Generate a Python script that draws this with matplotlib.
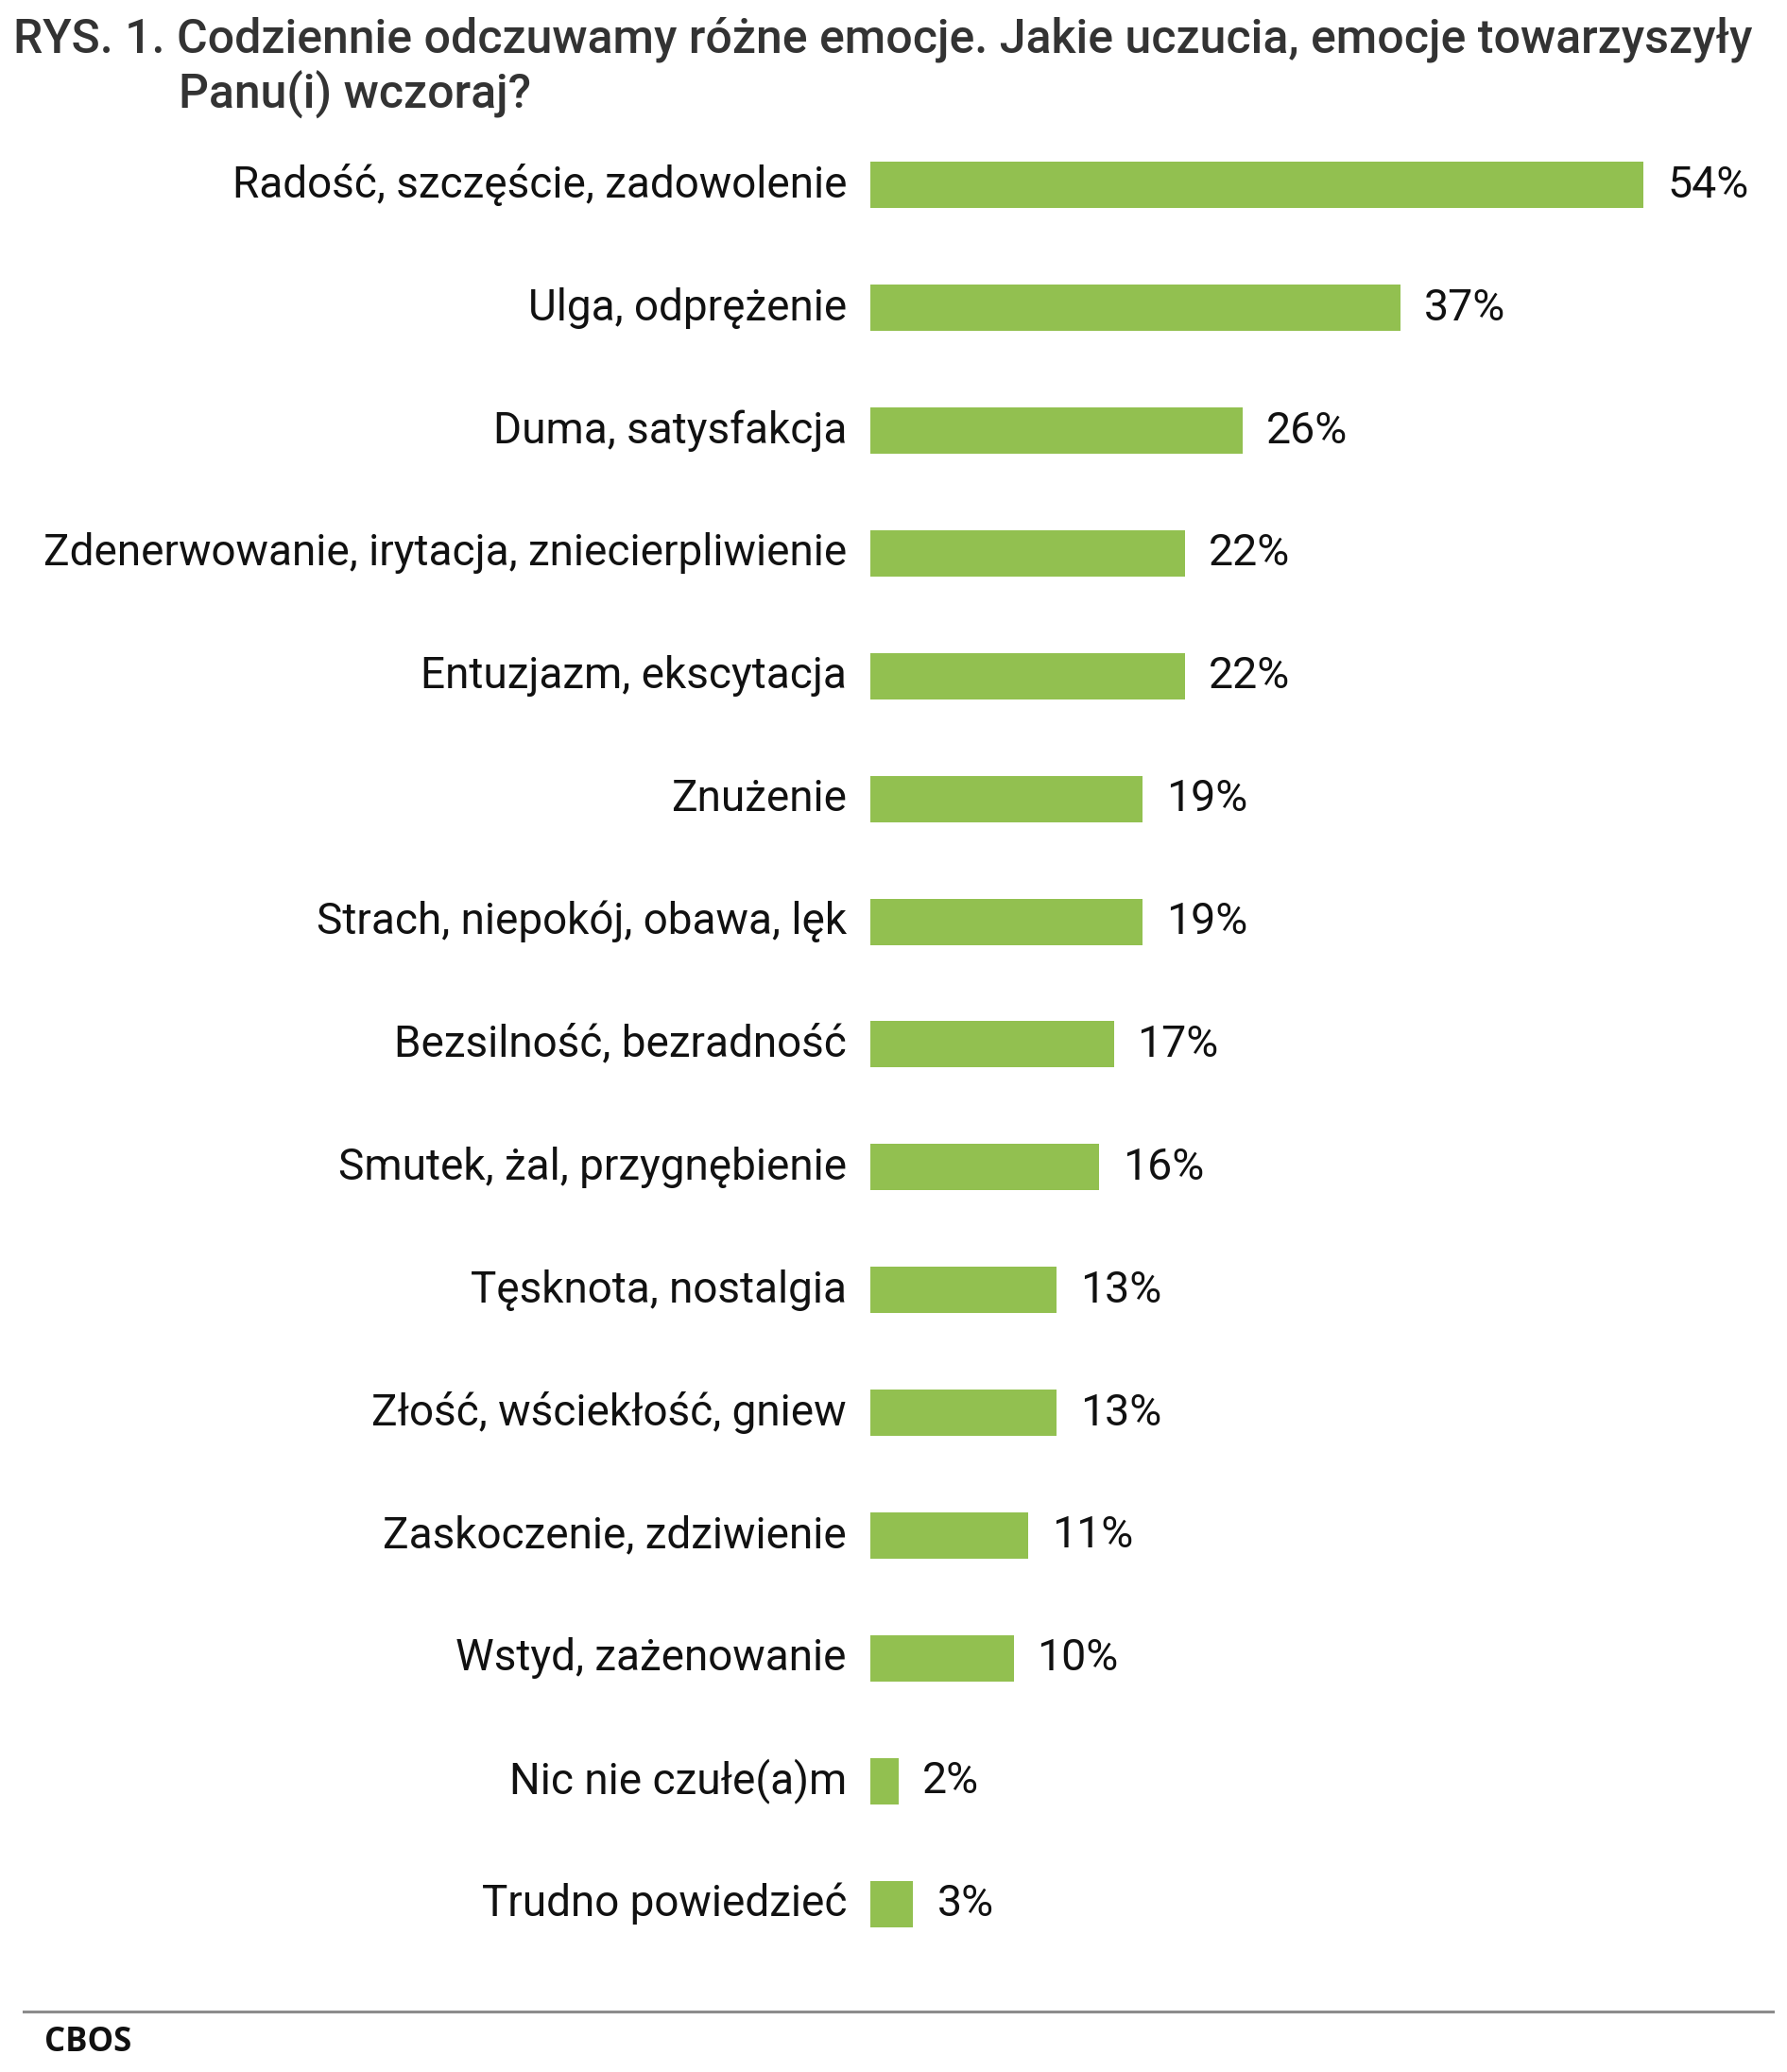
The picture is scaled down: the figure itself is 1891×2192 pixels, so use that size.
import matplotlib.pyplot as plt
from matplotlib.transforms import offset_copy

categories = [
    'Radość, szczęście, zadowolenie',
    'Ulga, odprężenie',
    'Duma, satysfakcja',
    'Zdenerwowanie, irytacja, zniecierpliwienie',
    'Entuzjazm, ekscytacja',
    'Znużenie',
    'Strach, niepokój, obawa, lęk',
    'Bezsilność, bezradność',
    'Smutek, żal, przygnębienie',
    'Tęsknota, nostalgia',
    'Złość, wściekłość, gniew',
    'Zaskoczenie, zdziwienie',
    'Wstyd, zażenowanie',
    'Nic nie czułe(a)m',
    'Trudno powiedzieć',
]
values = [54, 37, 26, 22, 22, 19, 19, 17, 16, 13, 13, 11, 10, 2, 3]

title1 = 'RYS. 1. Codziennie odczuwamy różne emocje. Jakie uczucia, emocje towarzyszyły'
title2 = 'Panu(i) wczoraj?'
source = 'CBOS'

W, H = 1891, 2192
fig = plt.figure(figsize=(W / 100, H / 100), dpi=100)

# axes placed in pixel units
left_px, px_per_pct = 921, 15.15
top_px, bottom_px = 130.8, 2079.0
xmax = 60
ax = fig.add_axes([left_px / W, 1 - bottom_px / H,
                   xmax * px_per_pct / W, (bottom_px - top_px) / H])

pos = list(range(len(categories)))
ax.barh(pos, values, height=0.377, color='#92C050', edgecolor='none')
ax.set_xlim(0, xmax)
ax.set_ylim(len(categories) - 0.5, -0.5)
ax.axis('off')

lab_tr = offset_copy(ax.transData, fig=fig, x=-18, y=0, units='points')
val_tr = offset_copy(ax.transData, fig=fig, x=18, y=0, units='points')
for p, c, v in zip(pos, categories, values):
    ax.text(0, p, c, transform=lab_tr, ha='right', va='center',
            fontsize=33, family='Roboto', color='#111111')
    ax.text(v, p, f'{v}%', transform=val_tr, ha='left', va='center',
            fontsize=33.5, family='Roboto', color='#111111')

fig.text(14 / W, 1 - 42 / H, title1, ha='left', va='center',
         fontsize=36, family='Roboto', fontweight='medium', color='#333333')
fig.text(189 / W, 1 - 100 / H, title2, ha='left', va='center',
         fontsize=36, family='Roboto', fontweight='medium', color='#333333')

fig.add_artist(plt.Line2D([25 / W, 1876 / W], [1 - 2128 / H, 1 - 2128 / H],
                          color='#8c8c8c', linewidth=2.2))
fig.text(47 / W, 1 - 2161 / H, source, ha='left', va='center',
         fontsize=25, family='Open Sans', fontweight='bold', color='#111111')

fig.savefig('out.png', dpi=100)
